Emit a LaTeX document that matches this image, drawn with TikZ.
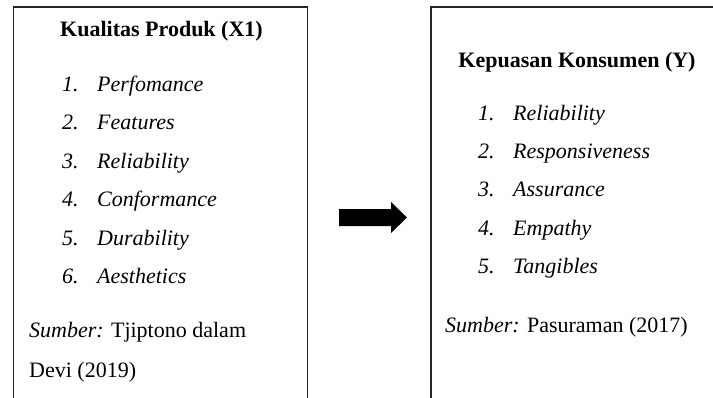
\documentclass[tikz,border=0pt]{standalone}
\usepackage{fontspec}
\setmainfont{Liberation Serif}
\begin{document}
\begin{tikzpicture}[x=1pt,y=-1pt,
  frame/.style={line width=1.5pt,draw=black!85},
  title/.style={anchor=base,inner sep=0pt,font=\fontsize{22}{26}\selectfont\bfseries},
  num/.style={anchor=base west,inner sep=0pt,font=\fontsize{22}{26}\selectfont\itshape},
  src/.style={anchor=base west,inner sep=0pt,font=\fontsize{22}{26}\selectfont}]
\useasboundingbox (0,0) rectangle (713,397);
% left box (open at bottom)
\draw[frame] (13.5,398) -- (13.5,7) -- (307.5,7) -- (307.5,398);
% right box (open at bottom and right)
\draw[frame] (431,398) -- (431,7) -- (714,7);
% left content
\node[title] (t1) at (161.5,36) {Kualitas Produk (X1)};
\foreach \i/\t/\y in {1/Perfomance/91,2/Features/129.5,3/Reliability/168,4/Conformance/206.5,5/Durability/245,6/Aesthetics/283.5}{
  \node[num] (ln\i) at (62,\y) {\i.};
  \node[num] (li\i) at (97,\y) {\t};
}
\node[src] (s1) at (29,337) {{\itshape Sumber:} Tjiptono dalam};
\node[src] (s1b) at (29,377) {Devi (2019)};
% right content
\node[title] (t2) at (577,67) {Kepuasan Konsumen (Y)};
\foreach \i/\t/\y in {1/Reliability/120,2/Responsiveness/158,3/Assurance/196,4/Empathy/235,5/Tangibles/273}{
  \node[num] (rn\i) at (478,\y) {\i.};
  \node[num] (ri\i) at (513,\y) {\t};
}
\node[src] (s2) at (445,332) {{\itshape Sumber:} Pasuraman (2017)};
% block arrow
\fill[black] (339,209) -- (391,209) -- (391,202) -- (407,217.5) -- (391,233) -- (391,226) -- (339,226) -- cycle;
\end{tikzpicture}
\end{document}
